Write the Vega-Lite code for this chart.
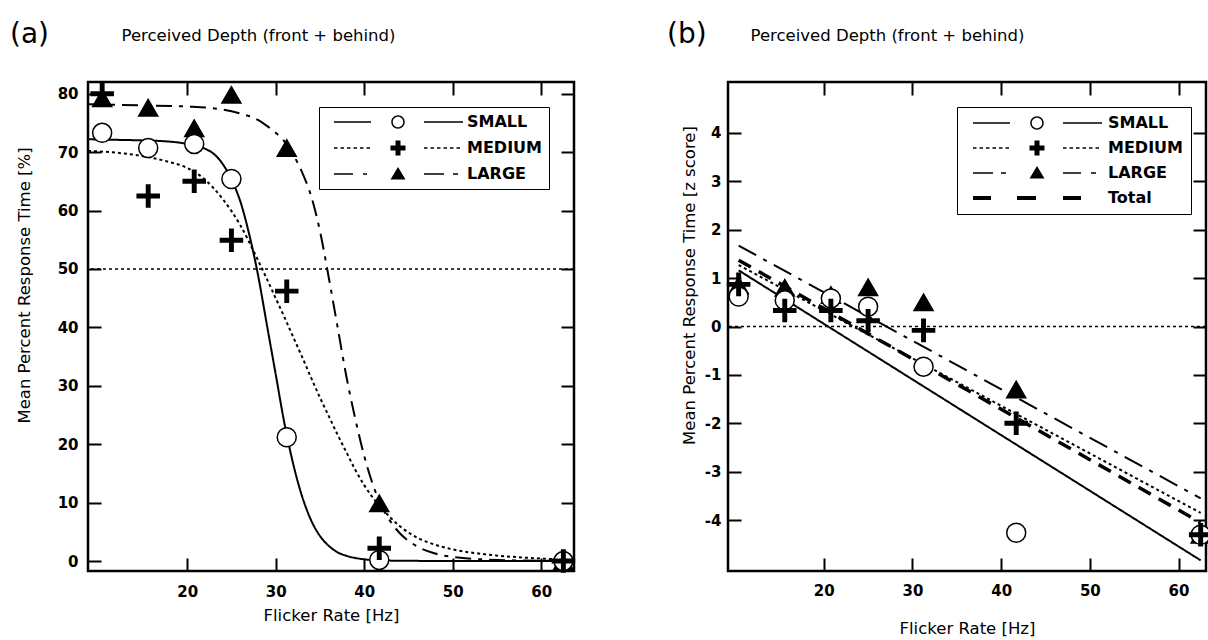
{
  "$schema": "https://vega.github.io/schema/vega-lite/v6.json",
  "background": "white",
  "padding": {"left": 8, "top": 19, "right": 0, "bottom": 0},
  "spacing": 85,
  "resolve": {"scale": {"shape": "independent", "fill": "independent", "strokeDash": "independent"}, "legend": {"shape": "independent"}},
  "datasets": {
    "curvesA": [
      {"group":"SMALL","hz":8.8,"pct":72.2},{"group":"SMALL","hz":12,"pct":72.1},{"group":"SMALL","hz":15,"pct":72.0},{"group":"SMALL","hz":18,"pct":71.8},{"group":"SMALL","hz":20,"pct":71.4},{"group":"SMALL","hz":22,"pct":70.6},{"group":"SMALL","hz":23,"pct":69.7},{"group":"SMALL","hz":24,"pct":68.0},{"group":"SMALL","hz":25,"pct":65.3},{"group":"SMALL","hz":26,"pct":61.6},{"group":"SMALL","hz":27,"pct":56.0},{"group":"SMALL","hz":28,"pct":49.0},{"group":"SMALL","hz":29,"pct":40.5},{"group":"SMALL","hz":30,"pct":32.0},{"group":"SMALL","hz":31,"pct":23.5},{"group":"SMALL","hz":32,"pct":16.5},{"group":"SMALL","hz":33,"pct":11.0},{"group":"SMALL","hz":34,"pct":7.0},{"group":"SMALL","hz":35,"pct":4.3},{"group":"SMALL","hz":36,"pct":2.6},{"group":"SMALL","hz":37,"pct":1.5},{"group":"SMALL","hz":38,"pct":0.9},{"group":"SMALL","hz":40,"pct":0.3},{"group":"SMALL","hz":42,"pct":0.1},{"group":"SMALL","hz":45,"pct":0.05},{"group":"SMALL","hz":50,"pct":0},{"group":"SMALL","hz":63.7,"pct":0},
      {"group":"MEDIUM","hz":8.8,"pct":70.2},{"group":"MEDIUM","hz":12,"pct":69.9},{"group":"MEDIUM","hz":15,"pct":69.3},{"group":"MEDIUM","hz":18,"pct":68.3},{"group":"MEDIUM","hz":20,"pct":67.3},{"group":"MEDIUM","hz":22,"pct":65.3},{"group":"MEDIUM","hz":24,"pct":62.0},{"group":"MEDIUM","hz":26,"pct":57.5},{"group":"MEDIUM","hz":28,"pct":51.5},{"group":"MEDIUM","hz":29,"pct":48.3},{"group":"MEDIUM","hz":30,"pct":45.0},{"group":"MEDIUM","hz":31,"pct":41.7},{"group":"MEDIUM","hz":32,"pct":38.3},{"group":"MEDIUM","hz":33,"pct":34.9},{"group":"MEDIUM","hz":34,"pct":31.4},{"group":"MEDIUM","hz":35,"pct":28.0},{"group":"MEDIUM","hz":36,"pct":24.8},{"group":"MEDIUM","hz":37,"pct":21.6},{"group":"MEDIUM","hz":38,"pct":18.6},{"group":"MEDIUM","hz":39,"pct":15.6},{"group":"MEDIUM","hz":40,"pct":13.0},{"group":"MEDIUM","hz":41,"pct":10.8},{"group":"MEDIUM","hz":42,"pct":9.0},{"group":"MEDIUM","hz":44,"pct":6.0},{"group":"MEDIUM","hz":46,"pct":4.0},{"group":"MEDIUM","hz":48,"pct":2.8},{"group":"MEDIUM","hz":50,"pct":2.0},{"group":"MEDIUM","hz":54,"pct":1.1},{"group":"MEDIUM","hz":58,"pct":0.6},{"group":"MEDIUM","hz":63.7,"pct":0.2},
      {"group":"LARGE","hz":8.8,"pct":78.2},{"group":"LARGE","hz":15,"pct":78.0},{"group":"LARGE","hz":20,"pct":77.8},{"group":"LARGE","hz":24,"pct":77.3},{"group":"LARGE","hz":26,"pct":76.6},{"group":"LARGE","hz":28,"pct":75.5},{"group":"LARGE","hz":29,"pct":74.5},{"group":"LARGE","hz":30,"pct":73.3},{"group":"LARGE","hz":31,"pct":71.8},{"group":"LARGE","hz":32,"pct":69.5},{"group":"LARGE","hz":33,"pct":66.5},{"group":"LARGE","hz":34,"pct":62.5},{"group":"LARGE","hz":35,"pct":56.5},{"group":"LARGE","hz":36,"pct":48.5},{"group":"LARGE","hz":37,"pct":40.0},{"group":"LARGE","hz":38,"pct":31.5},{"group":"LARGE","hz":39,"pct":24.3},{"group":"LARGE","hz":40,"pct":18.0},{"group":"LARGE","hz":41,"pct":13.0},{"group":"LARGE","hz":42,"pct":9.3},{"group":"LARGE","hz":43,"pct":6.7},{"group":"LARGE","hz":44,"pct":4.8},{"group":"LARGE","hz":46,"pct":2.5},{"group":"LARGE","hz":48,"pct":1.3},{"group":"LARGE","hz":50,"pct":0.7},{"group":"LARGE","hz":55,"pct":0.2},{"group":"LARGE","hz":63.7,"pct":0}
    ],
    "pointsA": [
      {"group":"LARGE","hz":10.4,"pct":79.2},{"group":"LARGE","hz":15.6,"pct":77.6},{"group":"LARGE","hz":20.8,"pct":74.1},{"group":"LARGE","hz":25,"pct":79.8},{"group":"LARGE","hz":31.25,"pct":70.7},{"group":"LARGE","hz":41.7,"pct":9.9},{"group":"LARGE","hz":62.5,"pct":0},
      {"group":"SMALL","hz":10.4,"pct":73.3},{"group":"SMALL","hz":15.6,"pct":70.7},{"group":"SMALL","hz":20.8,"pct":71.4},{"group":"SMALL","hz":25,"pct":65.4},{"group":"SMALL","hz":31.25,"pct":21.2},{"group":"SMALL","hz":41.7,"pct":0.2},{"group":"SMALL","hz":62.5,"pct":0},
      {"group":"MEDIUM","hz":10.4,"pct":80.0},{"group":"MEDIUM","hz":15.6,"pct":62.5},{"group":"MEDIUM","hz":20.8,"pct":65.0},{"group":"MEDIUM","hz":25,"pct":54.9},{"group":"MEDIUM","hz":31.25,"pct":46.2},{"group":"MEDIUM","hz":41.7,"pct":2.2},{"group":"MEDIUM","hz":62.5,"pct":0}
    ],
    "linesB": [
      {"group":"SMALL","hz":10.4,"z":1.16},{"group":"SMALL","hz":62.5,"z":-4.83},
      {"group":"MEDIUM","hz":10.4,"z":1.27},{"group":"MEDIUM","hz":62.5,"z":-3.85},
      {"group":"LARGE","hz":10.4,"z":1.67},{"group":"LARGE","hz":62.5,"z":-3.55}
    ],
    "totalB": [
      {"group":"Total","hz":10.4,"z":1.37},{"group":"Total","hz":62.5,"z":-4.05}
    ],
    "pointsB": [
      {"group":"LARGE","hz":10.4,"z":0.85},{"group":"LARGE","hz":15.6,"z":0.8},{"group":"LARGE","hz":20.8,"z":0.65},{"group":"LARGE","hz":25,"z":0.81},{"group":"LARGE","hz":31.25,"z":0.5},{"group":"LARGE","hz":41.7,"z":-1.3},{"group":"LARGE","hz":62.5,"z":-4.3},
      {"group":"SMALL","hz":10.4,"z":0.62},{"group":"SMALL","hz":15.6,"z":0.54},{"group":"SMALL","hz":20.8,"z":0.58},{"group":"SMALL","hz":25,"z":0.41},{"group":"SMALL","hz":31.25,"z":-0.83},{"group":"SMALL","hz":41.7,"z":-4.26},{"group":"SMALL","hz":62.5,"z":-4.3},
      {"group":"MEDIUM","hz":10.4,"z":0.87},{"group":"MEDIUM","hz":15.6,"z":0.33},{"group":"MEDIUM","hz":20.8,"z":0.33},{"group":"MEDIUM","hz":25,"z":0.12},{"group":"MEDIUM","hz":31.25,"z":-0.08},{"group":"MEDIUM","hz":41.7,"z":-2.0},{"group":"MEDIUM","hz":62.5,"z":-4.3}
    ],
    "ref50": [{"ref": 50}],
    "ref0": [{"ref": 0}],
    "none": []
  },
  "hconcat": [
    {
      "width": 486,
      "height": 489,
      "title": {"text": "(a)", "dx": -78, "dy": 26},
      "resolve": {"axis": {"x": "independent", "y": "independent"}, "scale": {"shape": "independent"}, "legend": {"shape": "independent"}},
      "layer": [
        {
          "data": {"name": "curvesA"},
          "mark": {"type": "line", "interpolate": "monotone", "color": "black", "strokeWidth": 2},
          "encoding": {
            "x": {"field": "hz", "type": "quantitative", "scale": {"domain": [8.8, 63.7], "nice": false, "zero": false},
                  "axis": {"orient": "bottom", "values": [20, 30, 40, 50, 60], "labelPadding": 26, "title": "Flicker Rate [Hz]", "titleX": 243, "titleY": 44, "titleAlign": "center", "titleBaseline": "middle"}},
            "y": {"field": "pct", "type": "quantitative", "scale": {"domain": [-1.7, 82], "nice": false, "zero": false},
                  "axis": {"orient": "left", "values": [0, 10, 20, 30, 40, 50, 60, 70, 80], "labelPadding": 23, "title": "Mean Percent Response Time [%]", "titleX": -64, "titleY": 203, "titleAlign": "center", "titleBaseline": "middle", "titleAngle": 270}},
            "strokeDash": {"field": "group", "type": "nominal", "scale": {"domain": ["SMALL", "MEDIUM", "LARGE"], "range": [[1, 0], [3, 3], [16, 7, 4, 7]]}, "legend": null}
          }
        },
        {
          "data": {"name": "ref50"},
          "mark": {"type": "rule", "color": "black", "strokeWidth": 1.5, "strokeDash": [3, 3]},
          "encoding": {"y": {"field": "ref", "type": "quantitative", "axis": null}}
        },
        {
          "data": {"name": "pointsA"},
          "mark": {"type": "point", "filled": true, "stroke": "black", "strokeWidth": 1.5, "opacity": 1, "size": 361},
          "encoding": {
            "x": {"field": "hz", "type": "quantitative", "axis": null},
            "y": {"field": "pct", "type": "quantitative", "axis": null},
            "shape": {"field": "group", "type": "nominal",
                      "scale": {"domain": ["SMALL", "MEDIUM", "LARGE"], "range": ["circle", "M-0.18,-1.16H0.18V-0.18H1.16V0.18H0.18V1.16H-0.18V0.18H-1.16V-0.18H-0.18Z", "triangle-up"]},
                      "legend": null},
            "fill": {"field": "group", "type": "nominal", "scale": {"domain": ["SMALL", "MEDIUM", "LARGE"], "range": ["white", "black", "black"]}, "legend": null}
          }
        },
        {
          "data": {"name": "none"},
          "mark": {"type": "point", "filled": true, "color": "black", "opacity": 1},
          "encoding": {
            "shape": {"field": "group", "type": "nominal",
                      "scale": {"domain": ["SMALL", "MEDIUM", "LARGE"],
                                "range": [
                                  "M0,-0.75H37V0.75H0ZM70.75,0A6.75,6.75,0,1,1,57.25,0A6.75,6.75,0,1,1,70.75,0ZM69.25,0A5.25,5.25,0,1,0,58.75,0A5.25,5.25,0,1,0,69.25,0ZM90,-0.75H129V0.75H90Z",
                                  "M0,-0.75h3.5v1.5h-3.5ZM6.5,-0.75h3.5v1.5h-3.5ZM13,-0.75h3.5v1.5h-3.5ZM19.5,-0.75h3.5v1.5h-3.5ZM26,-0.75h3.5v1.5h-3.5ZM32.5,-0.75h3.5v1.5h-3.5ZM61.5,-7.5H66.5V-2.5H71.5V2.5H66.5V7.5H61.5V2.5H56.5V-2.5H61.5ZM90,-0.75h3.5v1.5h-3.5ZM96.5,-0.75h3.5v1.5h-3.5ZM103,-0.75h3.5v1.5h-3.5ZM109.5,-0.75h3.5v1.5h-3.5ZM116,-0.75h3.5v1.5h-3.5ZM122.5,-0.75h3.5v1.5h-3.5Z",
                                  "M0,-0.75H19V0.75H0ZM29,-0.75H33V0.75H29ZM64,-7L71.5,5.5L56.5,5.5ZM90,-0.75H110V0.75H90ZM119,-0.75H124V0.75H119Z"
                                ]},
                      "legend": {
                        "title": null, "orient": "none", "legendX": 231, "legendY": 25, "padding": 7, "rowPadding": 10,
                        "symbolSize": 4, "symbolFillColor": "black", "symbolStrokeColor": "black", "symbolStrokeWidth": 0, "symbolOpacity": 1,
                        "labelOffset": 125, "labelFont": "DejaVu Sans", "labelFontSize": 16, "labelFontWeight": "bold", "labelColor": "black",
                        "strokeColor": "black", "fillColor": "white",
                        "encode": {"legend": {"strokeWidth": {"value": 2}}}
                      }}
          }
        },
        {
          "data": {"name": "pointsA"},
          "mark": {"type": "point", "opacity": 0},
          "encoding": {
            "x": {"field": "hz", "type": "quantitative",
                  "axis": {"orient": "top", "labels": false, "values": [20, 30, 40, 50, 60], "title": "Perceived Depth (front + behind)", "titleX": 170, "titleY": -47, "titleAlign": "center", "titleBaseline": "middle", "titleAngle": 0}},
            "y": {"field": "pct", "type": "quantitative",
                  "axis": {"orient": "right", "labels": false, "values": [0, 10, 20, 30, 40, 50, 60, 70, 80], "title": null}}
          }
        }
      ]
    },
    {
      "width": 478,
      "height": 489,
      "title": {"text": "(b)", "dx": -61, "dy": 26},
      "resolve": {"axis": {"x": "independent", "y": "independent"}, "scale": {"shape": "independent"}, "legend": {"shape": "independent"}},
      "layer": [
        {
          "data": {"name": "linesB"},
          "mark": {"type": "line", "color": "black", "strokeWidth": 2},
          "encoding": {
            "x": {"field": "hz", "type": "quantitative", "scale": {"domain": [9.2, 63.1], "nice": false, "zero": false},
                  "axis": {"orient": "bottom", "values": [20, 30, 40, 50, 60], "labelPadding": 25, "title": "Flicker Rate [Hz]", "titleX": 239, "titleY": 57, "titleAlign": "center", "titleBaseline": "middle"}},
            "y": {"field": "z", "type": "quantitative", "scale": {"domain": [-5.05, 5.05], "nice": false, "zero": false},
                  "axis": {"orient": "left", "values": [-4, -3, -2, -1, 0, 1, 2, 3, 4], "labelExpr": "'' + datum.value", "labelPadding": 20, "title": "Mean Percent Response Time [z score]", "titleX": -39, "titleY": 203, "titleAlign": "center", "titleBaseline": "middle", "titleAngle": 270}},
            "strokeDash": {"field": "group", "type": "nominal", "scale": {"domain": ["SMALL", "MEDIUM", "LARGE"], "range": [[1, 0], [3, 3], [20, 8, 4, 8]]}, "legend": null}
          }
        },
        {
          "data": {"name": "totalB"},
          "mark": {"type": "line", "color": "black", "strokeWidth": 3.5, "strokeDash": [14, 9]},
          "encoding": {
            "x": {"field": "hz", "type": "quantitative", "axis": null},
            "y": {"field": "z", "type": "quantitative", "axis": null}
          }
        },
        {
          "data": {"name": "ref0"},
          "mark": {"type": "rule", "color": "black", "strokeWidth": 1.5, "strokeDash": [3, 3]},
          "encoding": {"y": {"field": "ref", "type": "quantitative", "axis": null}}
        },
        {
          "data": {"name": "pointsB"},
          "mark": {"type": "point", "filled": true, "stroke": "black", "strokeWidth": 1.5, "opacity": 1, "size": 361},
          "encoding": {
            "x": {"field": "hz", "type": "quantitative", "axis": null},
            "y": {"field": "z", "type": "quantitative", "axis": null},
            "shape": {"field": "group", "type": "nominal",
                      "scale": {"domain": ["SMALL", "MEDIUM", "LARGE"], "range": ["circle", "M-0.18,-1.16H0.18V-0.18H1.16V0.18H0.18V1.16H-0.18V0.18H-1.16V-0.18H-0.18Z", "triangle-up"]},
                      "legend": null},
            "fill": {"field": "group", "type": "nominal", "scale": {"domain": ["SMALL", "MEDIUM", "LARGE"], "range": ["white", "black", "black"]}, "legend": null}
          }
        },
        {
          "data": {"name": "none"},
          "mark": {"type": "point", "filled": true, "color": "black", "opacity": 1},
          "encoding": {
            "shape": {"field": "group", "type": "nominal",
                      "scale": {"domain": ["SMALL", "MEDIUM", "LARGE", "Total"],
                                "range": [
                                  "M0,-0.75H37V0.75H0ZM70.75,0A6.75,6.75,0,1,1,57.25,0A6.75,6.75,0,1,1,70.75,0ZM69.25,0A5.25,5.25,0,1,0,58.75,0A5.25,5.25,0,1,0,69.25,0ZM90,-0.75H129V0.75H90Z",
                                  "M0,-0.75h3.5v1.5h-3.5ZM6.5,-0.75h3.5v1.5h-3.5ZM13,-0.75h3.5v1.5h-3.5ZM19.5,-0.75h3.5v1.5h-3.5ZM26,-0.75h3.5v1.5h-3.5ZM32.5,-0.75h3.5v1.5h-3.5ZM61.5,-7.5H66.5V-2.5H71.5V2.5H66.5V7.5H61.5V2.5H56.5V-2.5H61.5ZM90,-0.75h3.5v1.5h-3.5ZM96.5,-0.75h3.5v1.5h-3.5ZM103,-0.75h3.5v1.5h-3.5ZM109.5,-0.75h3.5v1.5h-3.5ZM116,-0.75h3.5v1.5h-3.5ZM122.5,-0.75h3.5v1.5h-3.5Z",
                                  "M0,-0.75H20V0.75H0ZM28,-0.75H33V0.75H28ZM64,-7L71.5,5.5L56.5,5.5ZM90,-0.75H108V0.75H90ZM118,-0.75H123V0.75H118Z",
                                  "M0,-2H18V2H0ZM44,-2H63V2H44ZM90,-2H108V2H90Z"
                                ]},
                      "legend": {
                        "title": null, "orient": "none", "legendX": 229, "legendY": 25, "padding": 8, "rowPadding": 9,
                        "symbolSize": 4, "symbolFillColor": "black", "symbolStrokeColor": "black", "symbolStrokeWidth": 0, "symbolOpacity": 1,
                        "labelOffset": 127, "labelFont": "DejaVu Sans", "labelFontSize": 16, "labelFontWeight": "bold", "labelColor": "black",
                        "strokeColor": "black", "fillColor": "white",
                        "encode": {"legend": {"strokeWidth": {"value": 2}}}
                      }}
          }
        },
        {
          "data": {"name": "pointsB"},
          "mark": {"type": "point", "opacity": 0},
          "encoding": {
            "x": {"field": "hz", "type": "quantitative",
                  "axis": {"orient": "top", "labels": false, "values": [20, 30, 40, 50, 60], "title": "Perceived Depth (front + behind)", "titleX": 159, "titleY": -47, "titleAlign": "center", "titleBaseline": "middle", "titleAngle": 0}},
            "y": {"field": "z", "type": "quantitative",
                  "axis": {"orient": "right", "labels": false, "values": [-4, -3, -2, -1, 0, 1, 2, 3, 4], "title": null}}
          }
        }
      ]
    }
  ],
  "config": {
    "view": {"stroke": "black", "strokeWidth": 2.5},
    "title": {"font": "DejaVu Sans", "fontSize": 28, "fontWeight": "normal", "color": "black", "anchor": "start", "frame": "group"},
    "axis": {
      "labelFont": "DejaVu Sans", "labelFontSize": 15, "labelFontWeight": "bold", "labelColor": "black", "labelFlush": false,
      "titleFont": "DejaVu Sans", "titleFontSize": 16.5, "titleFontWeight": "normal", "titleColor": "black",
      "tickColor": "black", "tickWidth": 2, "tickSize": -13, "domain": false, "grid": false, "ticks": true
    }
  }
}
